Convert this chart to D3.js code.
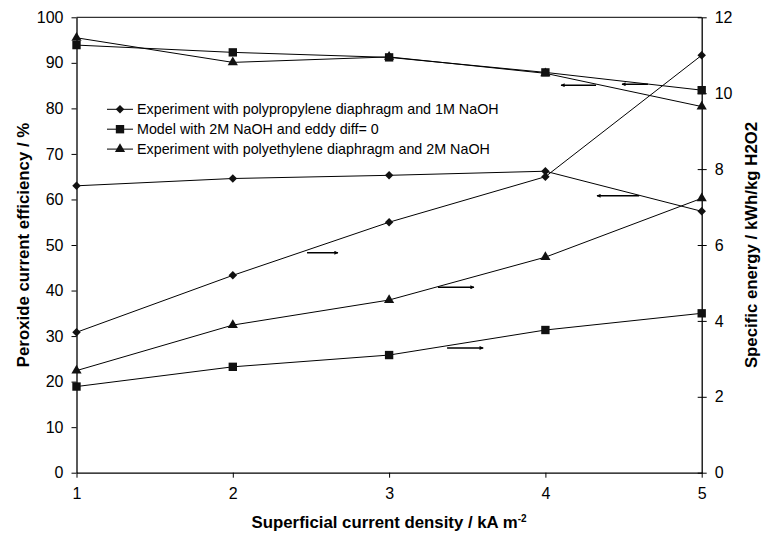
<!DOCTYPE html>
<html>
<head>
<meta charset="utf-8">
<script src="https://cdn.jsdelivr.net/npm/d3@7"></script>
<style>
  body { margin: 0; background: #fff; }
  svg { font-family: "Liberation Sans", Arial, Helvetica, sans-serif; }
  .axis path, .axis line { stroke: #000; }
  .axis text { font-size: 16px; fill: #000; }
  .title { font-weight: bold; font-size: 16.8px; }
</style>
</head>
<body>
<svg id="chart" width="773" height="536"></svg>
<script>
'use strict';

// current density, kA m-2
var densities = [1, 2, 3, 4, 5];

// peroxide current efficiency, % (left axis)
var effPolypropylene = [63.0, 64.6, 65.3, 66.2, 57.4];
var effModel = [93.9, 92.3, 91.2, 87.9, 84.0];
var effPolyethylene = [95.5, 90.1, 91.3, 87.7, 80.4];

// specific energy, kWh/kg H2O2 (right axis)
var energyPolypropylene = [3.70, 5.20, 6.60, 7.80, 11.0];
var energyModel = [2.27, 2.79, 3.10, 3.76, 4.20];
var energyPolyethylene = [2.69, 3.89, 4.55, 5.68, 7.23];

var leftTicks = [0, 10, 20, 30, 40, 50, 60, 70, 80, 90, 100];
var rightTicks = [0, 2, 4, 6, 8, 10, 12];

var legendLabels = [
  'Experiment with polypropylene diaphragm and 1M NaOH',
  'Model with 2M NaOH and eddy diff= 0',
  'Experiment with polyethylene diaphragm and 2M NaOH'
];

// arrows telling which axis a curve belongs to (x in kA m-2, y in % of left axis)
var arrowFrom = [[2.475, 48.3], [3.313, 40.7], [3.371, 27.4], [4.600, 60.8], [4.324, 85.1], [4.656, 85.3]];
var arrowTo   = [[2.673, 48.3], [3.543, 40.7], [3.602, 27.4], [4.330, 60.8], [4.100, 85.1], [4.490, 85.3]];

var svg = d3.select('#chart');
var plotLeft = 76.5, plotRight = 701.7, plotTop = 17.3, plotBottom = 472.7;

var x = d3.scaleLinear().domain([1, 5]).range([plotLeft, plotRight]);
var yL = d3.scaleLinear().domain([0, 100]).range([plotBottom, plotTop]);
var yR = d3.scaleLinear().domain([0, 12]).range([plotBottom, plotTop]);

var diamond = {
  draw: function(ctx, size) {
    var r = Math.sqrt(size) / 2;
    ctx.moveTo(0, -r); ctx.lineTo(r, 0); ctx.lineTo(0, r); ctx.lineTo(-r, 0); ctx.closePath();
  }
};
var shapes = [
  d3.symbol().type(diamond).size(72),
  d3.symbol().type(d3.symbolSquare).size(70),
  d3.symbol().type(d3.symbolTriangle).size(45)
];

// top border
svg.append('line')
  .attr('x1', plotLeft).attr('x2', plotRight).attr('y1', plotTop).attr('y2', plotTop)
  .attr('stroke', '#000');

svg.append('g').attr('class', 'axis')
  .attr('transform', 'translate(' + plotLeft + ',0)')
  .call(d3.axisLeft(yL).tickValues(leftTicks).tickSize(5).tickPadding(8).tickSizeOuter(0));

var axR = svg.append('g').attr('class', 'axis')
  .attr('transform', 'translate(' + plotRight + ',0)')
  .call(d3.axisRight(yR).tickValues(rightTicks).tickSize(5).tickPadding(8).tickSizeOuter(0));
axR.selectAll('.tick line').attr('x1', -4);

svg.append('g').attr('class', 'axis')
  .attr('transform', 'translate(0,' + plotBottom + ')')
  .call(d3.axisBottom(x).tickValues(densities).tickFormat(d3.format('d')).tickSize(5).tickPadding(10).tickSizeOuter(0));

svg.selectAll('.axis path').attr('stroke-width', 1.3);

var line = d3.line();

function drawSeries(values, yScale, shape) {
  var pts = densities.map(function(d, i) { return [x(d), yScale(values[i])]; });
  svg.append('path')
    .attr('d', line(pts))
    .attr('fill', 'none')
    .attr('stroke', '#000')
    .attr('stroke-width', 1);
  svg.selectAll(null).data(pts).enter().append('path')
    .attr('transform', function(p) { return 'translate(' + p[0] + ',' + p[1] + ')'; })
    .attr('d', shape)
    .attr('fill', '#111');
}

drawSeries(effPolypropylene, yL, shapes[0]);
drawSeries(effModel, yL, shapes[1]);
drawSeries(effPolyethylene, yL, shapes[2]);
drawSeries(energyPolypropylene, yR, shapes[0]);
drawSeries(energyModel, yR, shapes[1]);
drawSeries(energyPolyethylene, yR, shapes[2]);

// arrows
svg.append('defs').append('marker')
  .attr('id', 'head')
  .attr('viewBox', '0 0 10 10')
  .attr('refX', 9).attr('refY', 5)
  .attr('markerWidth', 6).attr('markerHeight', 4)
  .attr('markerUnits', 'userSpaceOnUse')
  .attr('orient', 'auto')
  .append('path').attr('d', 'M0,0L10,5L0,10z').attr('fill', '#000');

arrowFrom.forEach(function(a, i) {
  var b = arrowTo[i];
  svg.append('line')
    .attr('x1', x(a[0])).attr('y1', yL(a[1]))
    .attr('x2', x(b[0])).attr('y2', yL(b[1]))
    .attr('stroke', '#000').attr('stroke-width', 1.5)
    .attr('marker-end', 'url(#head)');
});

// legend
var legend = svg.append('g').attr('transform', 'translate(107,109.3)');
legendLabels.forEach(function(label, i) {
  var g = legend.append('g').attr('transform', 'translate(0,' + (i * 19.9) + ')');
  g.append('line').attr('x1', 0).attr('x2', 26).attr('stroke', '#000');
  g.append('path').attr('transform', 'translate(13,0)').attr('d', shapes[i]).attr('fill', '#111');
  g.append('text').attr('x', 30).attr('dy', '0.35em')
    .style('font-size', '14.3px').text(label);
});

// axis titles
svg.append('text').attr('class', 'title')
  .attr('transform', 'translate(29,' + ((plotTop + plotBottom) / 2) + ') rotate(-90)')
  .attr('text-anchor', 'middle')
  .text('Peroxide current efficiency / %');

svg.append('text').attr('class', 'title')
  .attr('transform', 'translate(757,' + ((plotTop + plotBottom) / 2) + ') rotate(-90)')
  .attr('text-anchor', 'middle')
  .text('Specific energy / kWh/kg H2O2');

var xt = svg.append('text').attr('class', 'title')
  .attr('x', (plotLeft + plotRight) / 2).attr('y', 528)
  .attr('text-anchor', 'middle');
xt.append('tspan').text('Superficial current density / kA m');
xt.append('tspan').attr('dy', -6).style('font-size', '10px').text('-2');
</script>
</body>
</html>
